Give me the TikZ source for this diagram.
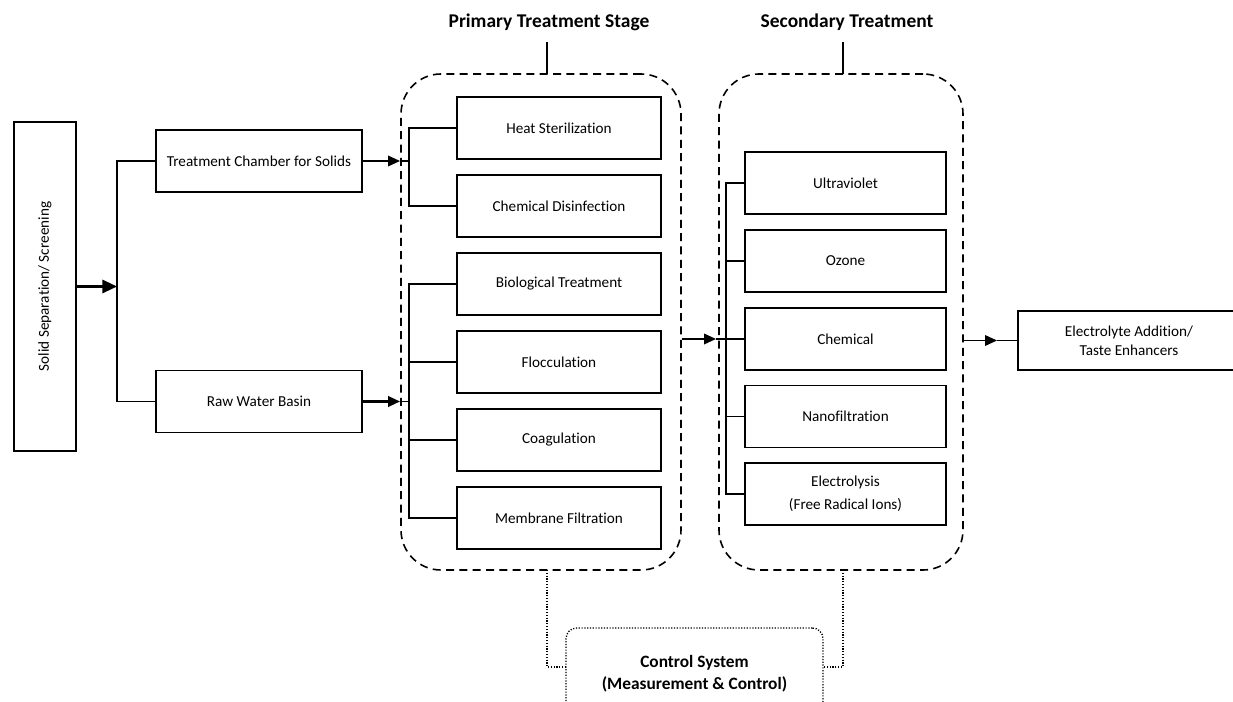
\documentclass[tikz,border=0pt]{standalone}
\usepackage{fontspec}
\setmainfont{Carlito}[Ligatures=NoCommon]
\usepackage{tikz}
\usetikzlibrary{arrows.meta}

\tikzset{
  box/.style={draw, line width=1.4pt, inner sep=2pt, align=center, font=\fontsize{11.4}{14}\selectfont},
  stage/.style={draw, line width=1.2pt, dash pattern=on 6pt off 4pt, rounded corners=30pt},
  ctrl/.style={draw, line width=1pt, dash pattern=on 0.9pt off 1.2pt, rounded corners=8pt, align=center, font=\bfseries\fontsize{13}{16.5}\selectfont},
  title/.style={font=\bfseries\fontsize{14.6}{17}\selectfont},
  link/.style={line width=1.1pt},
  arr/.style={line width=1.1pt, -{Triangle[length=9pt,width=8pt]}},
  ctrllink/.style={line width=1pt, dash pattern=on 0.9pt off 1.2pt},
}

\begin{document}
\begin{tikzpicture}[x=0.75pt, y=-0.75pt]
\useasboundingbox (0,0) rectangle (1233,702);
% input side
\node[box, minimum width=246.75pt, minimum height=46.5pt, rotate=90] (sep) at (45,286.5) {Solid Separation/ Screening};
\node[box, minimum width=154.5pt, minimum height=46.5pt] (tc) at (259,161) {Treatment Chamber for Solids};
\node[box, minimum width=154.5pt, minimum height=46.5pt] (rw) at (259,401.5) {Raw Water Basin};
\coordinate (split) at (117,286.5);
\draw[arr, line width=1.6pt, -{Triangle[length=11pt,width=10pt]}] (sep.south) -- (split);
\draw[link] (tc.west) -| (117,286.5) |- (rw.west);

% stage containers
\node[stage, minimum width=210pt, minimum height=372pt] (prim) at (541,322) {};
\node[stage, minimum width=183pt, minimum height=372pt] (sec) at (841,322) {};
\node[title] (primtitle) at (549,22) {Primary Treatment Stage};
\node[title] (sectitle) at (847,22) {Secondary Treatment};
\draw[link] (547,42) -- (547,74);
\draw[link] (843,42) -- (843,74);

% primary stage
\foreach \n/\y/\t in {heat/128/Heat Sterilization, chdis/206/Chemical Disinfection, bio/284/Biological Treatment, floc/362/Flocculation, coag/440/Coagulation, memb/518/Membrane Filtration}
  \node[box, minimum width=153pt, minimum height=46.5pt] (\n) at (559,\y) {\t};
\draw[link] (heat.west) -| (409,167) |- (chdis.west);
\draw[link] (bio.west) -| (409,400) |- (memb.west);
\draw[link] (floc.west) -- (409,362);
\draw[link] (coag.west) -- (409,440);
\coordinate (tcin) at (400,161);
\coordinate (rwin) at (400,401.5);
\draw[arr] (tc.east) -- (tcin);
\draw[link] (tcin) -- (409,161);
\draw[arr, line width=1.6pt] (rw.east) -- (rwin);
\draw[link] (rwin) -- (409,401.5);

% secondary stage
\foreach \n/\y/\t in {uv/183/Ultraviolet, ozone/261/Ozone, chem/339/Chemical, nano/416.5/Nanofiltration, elys/494/Electrolysis\\[3pt](Free Radical Ions)}
  \node[box, minimum width=150.75pt, minimum height=46.5pt] (\n) at (845.5,\y) {\t};
\draw[link] (uv.west) -| (726,339) |- (elys.west);
\draw[link] (ozone.west) -- (726,261);
\draw[link] (chem.west) -- (726,339);
\draw[link] (nano.west) -- (726,416.5);
\coordinate (secin) at (716,339);
\draw[arr] (prim.east |- chem) -- (secin);
\draw[link] (secin) -- (726,339);

% output
\node[box, minimum width=166.5pt, minimum height=44.25pt] (elec) at (1129,340.5) {Electrolyte Addition/\\Taste Enhancers};
\coordinate (elecin) at (997,340.5);
\draw[arr] (sec.east |- elec) -- (elecin);
\draw[link] (elecin) -- (elec.west);

% control system
\node[ctrl, minimum width=192.75pt, minimum height=69pt] (ctrl) at (694.5,674) {Control System\\(Measurement \& Control)};
\draw[ctrllink] (547,570) |- (ctrl.west |- 0,667);
\draw[ctrllink] (843,570) |- (ctrl.east |- 0,667);
\end{tikzpicture}
\end{document}
